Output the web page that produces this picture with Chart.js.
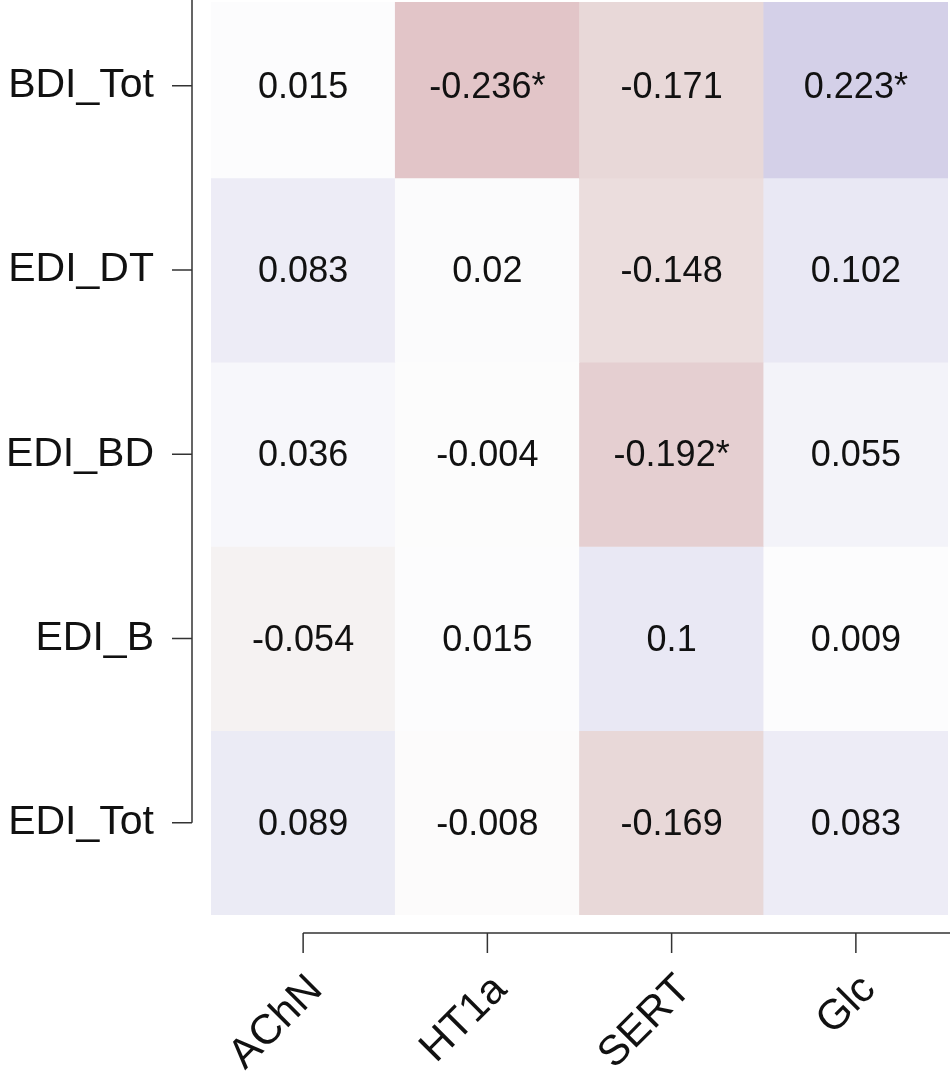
<!DOCTYPE html>
<html>
<head>
<meta charset="utf-8">
<script src="https://cdn.jsdelivr.net/npm/chart.js@4.4.1/dist/chart.umd.min.js"></script>
<style>
  html, body { margin: 0; padding: 0; background: #fff; }
  #wrap { width: 950px; height: 1079px; }
</style>
</head>
<body>
<div id="wrap"><canvas id="heat"></canvas></div>
<script>
  // columns (x) and rows (y, top to bottom)
  const markers = ['AChN', 'HT1a', 'SERT', 'Glc'];
  const scores = ['BDI_Tot', 'EDI_DT', 'EDI_BD', 'EDI_B', 'EDI_Tot'];

  // correlation per row, one value per marker
  const bdiTot = [0.015, -0.236, -0.171, 0.223];
  const ediDT = [0.083, 0.02, -0.148, 0.102];
  const ediBD = [0.036, -0.004, -0.192, 0.055];
  const ediB = [-0.054, 0.015, 0.1, 0.009];
  const ediTot = [0.089, -0.008, -0.169, 0.083];

  // significance flags (the asterisks)
  const sigBdiTot = [false, true, false, true];
  const sigEdiDT = [false, false, false, false];
  const sigEdiBD = [false, false, true, false];
  const sigEdiB = [false, false, false, false];
  const sigEdiTot = [false, false, false, false];

  const rowValues = [bdiTot, ediDT, ediBD, ediB, ediTot];
  const rowSig = [sigBdiTot, sigEdiDT, sigEdiBD, sigEdiB, sigEdiTot];

  const FONT = '"Liberation Sans", Arial, sans-serif';

  // colour ramp
  const negStops = [[0, [253, 253, 253]], [0.054, [245, 242, 242]], [0.171, [232, 216, 216]], [0.192, [229, 207, 209]], [0.236, [226, 197, 200]], [1, [130, 20, 30]]];
  const posStops = [[0, [253, 253, 253]], [0.015, [252, 252, 253]], [0.1, [233, 232, 244]], [0.223, [212, 208, 232]], [1, [60, 45, 150]]];

  function cellColor(v) {
    const stops = v < 0 ? negStops : posStops;
    const a = Math.abs(v);
    for (let i = 1; i < stops.length; i++) {
      if (a <= stops[i][0]) {
        const [a0, c0] = stops[i - 1];
        const [a1, c1] = stops[i];
        const t = (a - a0) / (a1 - a0);
        const c = c0.map((ch, k) => Math.round(ch + (c1[k] - ch) * t));
        return `rgb(${c[0]},${c[1]},${c[2]})`;
      }
    }
    return 'rgb(0,0,0)';
  }

  const datasets = scores.map((name, r) => ({
    label: name,
    data: markers.map(() => 1),
    backgroundColor: rowValues[r].map(cellColor),
    borderWidth: 0,
    categoryPercentage: 1,
    barPercentage: 1
  }));

  // cell labels
  const cellText = {
    id: 'cellText',
    afterDatasetsDraw(chart) {
      const ctx = chart.ctx;
      ctx.save();
      ctx.font = '36px ' + FONT;
      ctx.fillStyle = '#111';
      ctx.textAlign = 'center';
      ctx.textBaseline = 'middle';
      chart.data.datasets.forEach((ds, r) => {
        chart.getDatasetMeta(r).data.forEach((bar, c) => {
          const p = bar.getCenterPoint();
          const txt = String(rowValues[r][c]) + (rowSig[r][c] ? '*' : '');
          ctx.fillText(txt, p.x, p.y + 2);
        });
      });
      ctx.restore();
    }
  };

  // R style detached axes + rotated x labels
  const rAxes = {
    id: 'rAxes',
    afterDraw(chart) {
      const ctx = chart.ctx;
      const area = chart.chartArea;
      const xs = chart.scales.x;
      const ys = chart.scales.y;
      ctx.save();
      ctx.strokeStyle = '#333';
      ctx.lineWidth = 1.5;

      const ax = area.left - 19;
      const lastY = ys.getPixelForValue(scores.length - 0.5);
      ctx.beginPath();
      ctx.moveTo(ax, 0);
      ctx.lineTo(ax, lastY);
      scores.forEach((s, i) => {
        const y = ys.getPixelForValue(i + 0.5);
        ctx.moveTo(ax - 20, y);
        ctx.lineTo(ax, y);
      });
      ctx.stroke();

      const ay = area.bottom + 18;
      const firstX = xs.getPixelForValue(0);
      ctx.beginPath();
      ctx.moveTo(firstX, ay);
      ctx.lineTo(chart.width, ay);
      markers.forEach((m, i) => {
        const x = xs.getPixelForValue(i);
        ctx.moveTo(x, ay);
        ctx.lineTo(x, ay + 20);
      });
      ctx.stroke();

      ctx.font = '42px ' + FONT;
      ctx.fillStyle = '#111';
      ctx.textAlign = 'right';
      ctx.textBaseline = 'middle';
      markers.forEach((m, i) => {
        const x = xs.getPixelForValue(i);
        ctx.save();
        ctx.translate(x + 13, ay + 50);
        ctx.rotate(-Math.PI / 4);
        ctx.fillText(m, 0, 0);
        ctx.restore();
      });
      ctx.restore();
    }
  };

  new Chart(document.getElementById('heat'), {
    type: 'bar',
    data: { labels: markers, datasets: datasets },
    options: {
      responsive: true,
      maintainAspectRatio: false,
      animation: false,
      layout: { padding: { top: 2, right: 2, left: 0, bottom: 0 } },
      plugins: {
        legend: { display: false },
        tooltip: { enabled: false }
      },
      scales: {
        x: {
          stacked: true,
          grid: { display: false, drawTicks: false },
          border: { display: false },
          ticks: { display: false },
          afterFit(scale) {
            scale.height = 164;
            scale.paddingLeft = 0;
            scale.paddingRight = 0;
          }
        },
        y: {
          stacked: true,
          reverse: true,
          min: 0.045,
          max: 5,
          grid: { display: false, drawTicks: false },
          border: { display: false },
          afterBuildTicks(scale) {
            scale.ticks = scores.map((s, i) => ({ value: i + 0.5 }));
          },
          ticks: {
            font: { family: FONT, size: 41 },
            color: '#111',
            padding: 57,
            callback: (v) => scores[Math.floor(v)]
          },
          afterFit(scale) {
            scale.width = 211;
            scale.paddingTop = 0;
            scale.paddingBottom = 0;
          }
        }
      }
    },
    plugins: [cellText, rAxes]
  });
</script>
</body>
</html>
